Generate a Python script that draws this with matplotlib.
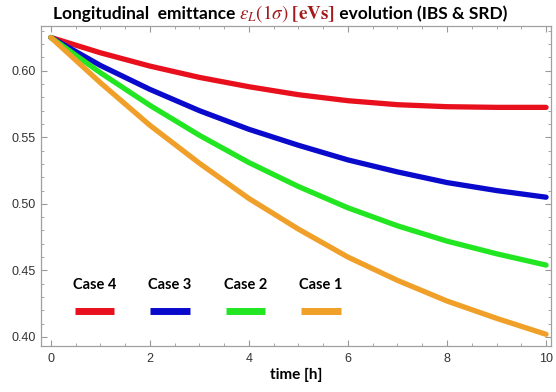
import matplotlib.pyplot as plt
from matplotlib.ticker import MultipleLocator
from matplotlib.offsetbox import TextArea, HPacker, AnchoredOffsetbox

# emittance [eVs] sampled every hour
hours = [0, 1, 2, 3, 4, 5, 6, 7, 8, 9, 10]
case4 = [0.625, 0.6135, 0.6035, 0.595, 0.588, 0.582, 0.5775, 0.5745, 0.573, 0.5725, 0.5725]
case3 = [0.625, 0.604, 0.586, 0.570, 0.556, 0.544, 0.533, 0.524, 0.516, 0.510, 0.505]
case2 = [0.625, 0.5985, 0.574, 0.5515, 0.531, 0.513, 0.497, 0.4835, 0.472, 0.4625, 0.454]
case1 = [0.625, 0.591, 0.559, 0.5305, 0.504, 0.481, 0.460, 0.4425, 0.427, 0.414, 0.402]

labels = ["Case 4", "Case 3", "Case 2", "Case 1"]
series = [case4, case3, case2, case1]
colors = ["#e8101c", "#0a0acc", "#22e622", "#f0a028"]

plt.rcParams['mathtext.fontset'] = 'stix'

fig = plt.figure(figsize=(5.56, 3.92), dpi=100)
ax = fig.add_axes([0.0737, 0.1173, 0.9173, 0.8163])

for ys, c in zip(series, colors):
    ax.plot(hours, ys, color=c, lw=3.8, solid_capstyle='round', solid_joinstyle='round')

ax.set_xlim(-0.2, 10.1)
ax.set_ylim(0.3932, 0.6336)
ax.xaxis.set_major_locator(MultipleLocator(2))
ax.xaxis.set_minor_locator(MultipleLocator(0.5))
ax.yaxis.set_major_locator(MultipleLocator(0.05))
ax.yaxis.set_minor_locator(MultipleLocator(0.01))
ax.yaxis.set_major_formatter(lambda v, p: f"{v:.2f}")
ax.tick_params(which='both', direction='in', top=True, right=True, color='#999999',
               labelsize=9, labelcolor='#333333', labelfontfamily='Liberation Sans')
ax.tick_params(which='major', length=4, width=0.8)
ax.tick_params(which='minor', length=2.5, width=0.6)
ax.tick_params(axis='x', pad=5)
for s in ax.spines.values():
    s.set_color('#a0a0a0')
    s.set_linewidth(0.9)

ax.set_xlabel("time [h]", fontsize=11, fontweight='bold', family='Lato', labelpad=2)

# hand-made legend: label above a short colour bar
for i, (lab, c) in enumerate(zip(labels, colors)):
    x0 = 0.0667 + i * 0.148
    ax.plot([x0, x0 + 0.077], [0.109, 0.109], transform=ax.transAxes,
            color=c, lw=5, solid_capstyle='butt')
    ax.text(x0 + 0.0385, 0.191, lab, transform=ax.transAxes, ha='center', va='center',
            fontsize=10.5, fontweight='bold', family='Lato')

# title built from pieces so the math part can be coloured
bold = dict(fontweight='bold', family='Lato', fontsize=12.5, color='black')
pieces = [
    TextArea("Longitudinal  emittance ", textprops=bold),
    TextArea(r"$\varepsilon_L(1\sigma)\ \mathbf{[eVs]}$",
             textprops=dict(fontsize=13.7, color='#a3191c')),
    TextArea(" evolution (IBS & SRD)", textprops=bold),
]
row = HPacker(children=pieces, align='baseline', pad=0, sep=0)
title = AnchoredOffsetbox(loc='lower center', child=row, pad=0, borderpad=0, frameon=False,
                          bbox_to_anchor=(0.5036, 0.938), bbox_transform=fig.transFigure)
fig.add_artist(title)

fig.savefig("out.png", dpi=100)
